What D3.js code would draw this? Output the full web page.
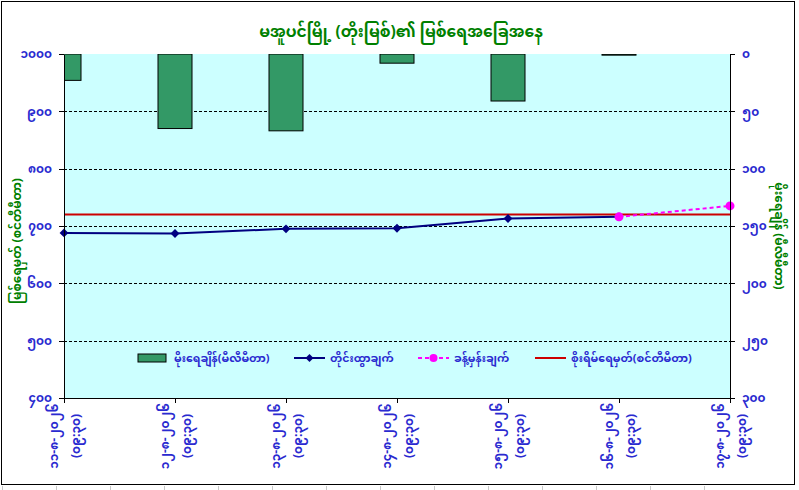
<!DOCTYPE html>
<html>
<head>
    <meta charset="UTF-8">
    <title>မအူပင်မြို့ မြစ်ရေအခြေအနေ</title>
    <style>
        body { margin: 0; background: #fff; }
        svg text { font-family: "Noto Sans Myanmar", "Padauk", "Myanmar Text", "Noto Sans", sans-serif; }
        .axis path, .axis line { fill: none; stroke: #000; shape-rendering: crispEdges; }
        .axis text { fill: #2a2ad0; font-size: 12px; font-weight: bold; }
        .grid line { stroke: #000; stroke-dasharray: 3,2; shape-rendering: crispEdges; }
    </style>
</head>
<body>
<script src="https://cdn.jsdelivr.net/npm/d3@7/dist/d3.min.js"></script>
<script>
    // chart values
    var dates = ["၁၁-၈-၂၀၂၆", "၁၂-၈-၂၀၂၆", "၁၃-၈-၂၀၂၆", "၁၄-၈-၂၀၂၆", "၁၅-၈-၂၀၂၆", "၁၆-၈-၂၀၂၆", "၁၇-၈-၂၀၂၆"];
    var readTime = "(၀၉:၃၀)";
    var rainfall = [23, 65, 67, 8, 41, 1, null];          // mm
    var observed = [688, 687, 695, 696, 713, 716, null];  // cm
    var forecast = [null, null, null, null, null, 716, 735];
    var dangerLevel = [720, 720, 720, 720, 720, 720, 720];
    var leftTicks = [400, 500, 600, 700, 800, 900, 1000];
    var leftTickLabels = ["၄၀၀", "၅၀၀", "၆၀၀", "၇၀၀", "၈၀၀", "၉၀၀", "၁၀၀၀"];
    var rightTicks = [0, 50, 100, 150, 200, 250, 300];
    var rightTickLabels = ["၀", "၅၀", "၁၀၀", "၁၅၀", "၂၀၀", "၂၅၀", "၃၀၀"];

    var title = "မအူပင်မြို့ (တိုးမြစ်)၏ မြစ်ရေအခြေအနေ";
    var leftTitle = "မြစ်ရေမှတ် (စင်တီမီတာ)";
    var rightTitle = "မိုးရေချိန် (မီလီမီတာ)";
    var legendNames = ["မိုးရေချိန်(မီလီမီတာ)", "တိုင်းထွာချက်", "ခန့်မှန်းချက်", "စိုးရိမ်ရေမှတ်(စင်တီမီတာ)"];

    var W = 799, H = 490;
    var plot = {left: 64, right: 730, top: 54, bottom: 398};

    var svg = d3.select("body").append("svg")
        .attr("width", W)
        .attr("height", H);

    // sheet cell lines outside the chart object
    svg.append("g")
        .selectAll("line")
        .data(d3.range(0, 14))
        .enter().append("line")
        .attr("x1", (d) => 2.5 + d * 54).attr("x2", (d) => 2.5 + d * 54)
        .attr("y1", 486).attr("y2", H)
        .attr("stroke", "#c8c8c8");

    svg.append("rect")
        .attr("x", 1.5).attr("y", 1.5)
        .attr("width", 793).attr("height", 483)
        .attr("fill", "#fff")
        .attr("stroke", "#000");

    var idx = d3.range(dates.length);

    var x = d3.scalePoint().domain(idx).range([plot.left, plot.right]);
    var yL = d3.scaleLinear().domain([400, 1000]).range([plot.bottom, plot.top]);
    var yR = d3.scaleLinear().domain([0, 300]).range([plot.top, plot.bottom]);

    svg.append("rect")
        .attr("x", plot.left).attr("y", plot.top)
        .attr("width", plot.right - plot.left)
        .attr("height", plot.bottom - plot.top)
        .attr("fill", "#ccffff");

    svg.append("clipPath").attr("id", "plot-clip")
        .append("rect")
        .attr("x", plot.left).attr("y", plot.top)
        .attr("width", plot.right - plot.left)
        .attr("height", plot.bottom - plot.top);

    // dashed gridlines
    svg.append("g")
        .attr("class", "grid")
        .selectAll("line")
        .data(leftTicks.slice(1, -1))
        .enter().append("line")
        .attr("x1", plot.left).attr("x2", plot.right)
        .attr("y1", (d) => Math.round(yL(d)) + 0.5)
        .attr("y2", (d) => Math.round(yL(d)) + 0.5);

    // rainfall bars, hanging from the top
    var barW = 34;
    svg.append("g")
        .attr("clip-path", "url(#plot-clip)")
        .selectAll("rect")
        .data(idx.filter((i) => rainfall[i] != null))
        .enter().append("rect")
        .attr("x", (i) => x(i) - barW / 2)
        .attr("y", yR(0))
        .attr("width", barW)
        .attr("height", (i) => yR(rainfall[i]) - yR(0))
        .attr("fill", "#339966")
        .attr("stroke", "#000")
        .attr("stroke-width", 1);

    // danger level
    svg.append("path")
        .datum(idx)
        .attr("fill", "none")
        .attr("stroke", "#cc0000")
        .attr("stroke-width", 2)
        .attr("d", d3.line().x((i) => x(i)).y((i) => yL(dangerLevel[i])));

    // observed level
    var obsIdx = idx.filter((i) => observed[i] != null);
    svg.append("path")
        .datum(obsIdx)
        .attr("fill", "none")
        .attr("stroke", "#000080")
        .attr("stroke-width", 2)
        .attr("d", d3.line().x((i) => x(i)).y((i) => yL(observed[i])));

    svg.append("g")
        .selectAll("path")
        .data(obsIdx)
        .enter().append("path")
        .attr("transform", (i) => `translate(${x(i)},${yL(observed[i])})`)
        .attr("d", d3.symbol().type(d3.symbolDiamond2).size(50))
        .attr("fill", "#000080");

    // forecast
    var fcIdx = idx.filter((i) => forecast[i] != null);
    svg.append("path")
        .datum(fcIdx)
        .attr("fill", "none")
        .attr("stroke", "#ff00ff")
        .attr("stroke-width", 2)
        .attr("stroke-dasharray", "4,3")
        .attr("d", d3.line().x((i) => x(i)).y((i) => yL(forecast[i])));

    svg.append("g")
        .selectAll("circle")
        .data(fcIdx)
        .enter().append("circle")
        .attr("cx", (i) => x(i))
        .attr("cy", (i) => yL(forecast[i]))
        .attr("r", 4.5)
        .attr("fill", "#ff00ff");

    // axes
    svg.append("g")
        .attr("class", "axis")
        .attr("transform", `translate(${plot.left},0)`)
        .call(d3.axisLeft(yL).tickValues(leftTicks).tickSize(5).tickSizeOuter(0)
            .tickFormat((d, i) => leftTickLabels[i]))
        .selectAll("text").attr("dx", "-4");

    svg.append("g")
        .attr("class", "axis")
        .attr("transform", `translate(${plot.right},0)`)
        .call(d3.axisRight(yR).tickValues(rightTicks).tickSize(5).tickSizeOuter(0)
            .tickFormat((d, i) => rightTickLabels[i]))
        .selectAll("text").attr("dx", "4");

    var xAxis = svg.append("g")
        .attr("class", "axis")
        .attr("transform", `translate(0,${plot.bottom})`)
        .call(d3.axisBottom(x).tickSize(5).tickSizeOuter(0).tickFormat(""));

    xAxis.selectAll(".tick").each(function(i) {
        var g = d3.select(this);
        g.append("text")
            .attr("transform", "translate(-11,38) rotate(-90)")
            .attr("text-anchor", "middle")
            .attr("dy", "0.35em")
            .text(dates[i]);
        g.append("text")
            .attr("transform", "translate(11,38) rotate(-90)")
            .attr("text-anchor", "middle")
            .attr("dy", "0.35em")
            .text(readTime);
    });

    // titles
    svg.append("text")
        .attr("x", 401).attr("y", 37)
        .attr("text-anchor", "middle")
        .attr("fill", "#008000")
        .attr("font-size", 15.5)
        .attr("font-weight", "bold")
        .text(title);

    svg.append("text")
        .attr("transform", "translate(17,241) rotate(-90)")
        .attr("text-anchor", "middle")
        .attr("dy", "0.35em")
        .attr("fill", "#008000")
        .attr("font-size", 12)
        .attr("font-weight", "bold")
        .text(leftTitle);

    svg.append("text")
        .attr("transform", "translate(779,236) rotate(90)")
        .attr("text-anchor", "middle")
        .attr("dy", "0.35em")
        .attr("fill", "#008000")
        .attr("font-size", 12)
        .attr("font-weight", "bold")
        .text(rightTitle);

    // legend
    var legX = [138, 294, 418, 535];
    var legY = 358;
    var leg = svg.append("g");

    leg.append("rect")
        .attr("x", legX[0]).attr("y", legY - 4)
        .attr("width", 28).attr("height", 8)
        .attr("fill", "#339966").attr("stroke", "#000");

    leg.append("line")
        .attr("x1", legX[1]).attr("x2", legX[1] + 31)
        .attr("y1", legY).attr("y2", legY)
        .attr("stroke", "#000080").attr("stroke-width", 2);
    leg.append("path")
        .attr("transform", `translate(${legX[1] + 15.5},${legY})`)
        .attr("d", d3.symbol().type(d3.symbolDiamond2).size(40))
        .attr("fill", "#000080");

    leg.append("line")
        .attr("x1", legX[2]).attr("x2", legX[2] + 31)
        .attr("y1", legY).attr("y2", legY)
        .attr("stroke", "#ff00ff").attr("stroke-width", 2)
        .attr("stroke-dasharray", "4,3");
    leg.append("circle")
        .attr("cx", legX[2] + 15.5).attr("cy", legY)
        .attr("r", 4).attr("fill", "#ff00ff");

    leg.append("line")
        .attr("x1", legX[3]).attr("x2", legX[3] + 31)
        .attr("y1", legY).attr("y2", legY)
        .attr("stroke", "#cc0000").attr("stroke-width", 2);

    leg.selectAll("text")
        .data(legendNames)
        .enter().append("text")
        .attr("x", (d, i) => legX[i] + 36)
        .attr("y", legY)
        .attr("dy", "0.35em")
        .attr("fill", "#2a2ad0")
        .attr("font-size", 11)
        .attr("font-weight", "bold")
        .text((d) => d);
</script>
</body>
</html>
